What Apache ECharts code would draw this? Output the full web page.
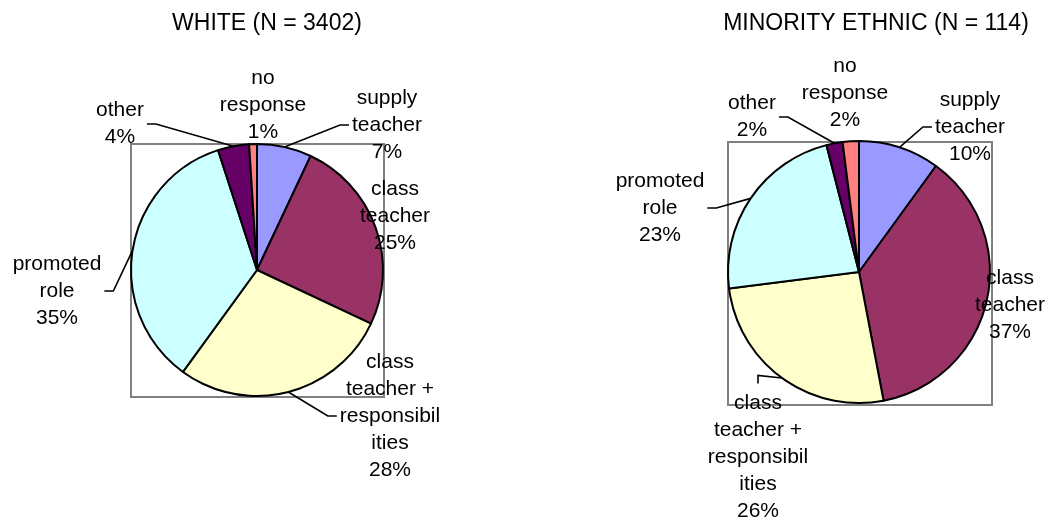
<!DOCTYPE html>
<html>
<head>
<meta charset="utf-8">
<script src="https://cdn.jsdelivr.net/npm/echarts@6/dist/echarts.min.js"></script>
<style>
  html, body { margin: 0; background: #fff; }
  #chart { width: 1048px; height: 521px; }
</style>
</head>
<body>
<div id="chart"></div>
<script>
// slice names, clockwise from 12 o'clock (line breaks as in the original labels)
const categories = ['supply\nteacher', 'class\nteacher', 'class\nteacher +\nresponsibil\nities', 'promoted\nrole', 'other', 'no\nresponse'];
const whiteValues = [7, 25, 28, 35, 4, 1];
const minorityValues = [10, 37, 26, 23, 2, 2];
const titles = ['WHITE (N = 3402)', 'MINORITY ETHNIC (N = 114)'];
const sliceColors = ['#9999FF', '#993366', '#FFFFCC', '#CCFFFF', '#660066', '#FF8080'];

// where each label sits and which side the leader line comes in from
const whiteLabels = [
  { pos: [387, 125], line: 'left' },
  { pos: [395, 216], line: null },
  { pos: [390, 416], line: 'left' },
  { pos: [57, 291], line: 'right' },
  { pos: [120, 124], line: 'right' },
  { pos: [263, 105], line: null }
];
const minorityLabels = [
  { pos: [970, 127], line: 'left' },
  { pos: [1010, 305], line: null },
  { pos: [758, 457], line: 'top' },
  { pos: [660, 208], line: 'right' },
  { pos: [752, 117], line: 'right' },
  { pos: [845, 93], line: null }
];

const FONT = 'Liberation Sans, Arial, sans-serif';

function buildData(values, labels) {
  return categories.map((name, i) => ({
    name,
    value: values[i],
    itemStyle: { color: sliceColors[i] },
    labelLine: { show: labels[i].line != null }
  }));
}

function makeLayout(labels) {
  return function (params) {
    const item = labels[params.dataIndex];
    const x = item.pos[0];
    const y = item.pos[1];
    const res = { x, y, align: 'center', verticalAlign: 'middle' };
    const pts = params.labelLinePoints;
    if (item.line && pts) {
      const w = params.labelRect.width;
      const h = params.labelRect.height;
      let end, elbow;
      if (item.line === 'left') {
        end = [x - w / 2 - 3, y];
        elbow = [end[0] - 9, y];
      } else if (item.line === 'right') {
        end = [x + w / 2 + 3, y];
        elbow = [end[0] + 9, y];
      } else {
        const top = y - h / 2;
        end = [x, top - 6];
        elbow = [x, top - 14];
      }
      res.labelLinePoints = [pts[0], elbow, end];
    }
    return res;
  };
}

function pieSeries(center, radius, values, labels) {
  return {
    type: 'pie',
    center,
    radius,
    startAngle: 90,
    clockwise: true,
    avoidLabelOverlap: false,
    percentPrecision: 0,
    itemStyle: { borderColor: '#000', borderWidth: 2 },
    label: {
      show: true,
      position: 'outside',
      formatter: '{b}\n{d}%',
      color: '#000',
      fontFamily: FONT,
      fontSize: 21,
      lineHeight: 27,
      align: 'center'
    },
    labelLine: { show: true, length: 10, length2: 10, lineStyle: { color: '#000', width: 1.6 } },
    emphasis: { disabled: true },
    labelLayout: makeLayout(labels),
    data: buildData(values, labels)
  };
}

const chart = echarts.init(document.getElementById('chart'));
chart.setOption({
  animation: false,
  backgroundColor: '#fff',
  title: [
    { text: titles[0], left: 267, top: 12, textAlign: 'center', padding: 0,
      textStyle: { fontFamily: FONT, fontSize: 23, fontWeight: 'normal', color: '#000' } },
    { text: titles[1], left: 876, top: 12, textAlign: 'center', padding: 0,
      textStyle: { fontFamily: FONT, fontSize: 23, fontWeight: 'normal', color: '#000' } }
  ],
  graphic: [
    { type: 'rect', z: -10, shape: { x: 131, y: 144, width: 253, height: 253 },
      style: { fill: 'none', stroke: '#808080', lineWidth: 2 } },
    { type: 'rect', z: -10, shape: { x: 728, y: 142, width: 264, height: 263 },
      style: { fill: 'none', stroke: '#808080', lineWidth: 2 } }
  ],
  series: [
    pieSeries([257, 270], 126, whiteValues, whiteLabels),
    pieSeries([859, 272], 131, minorityValues, minorityLabels)
  ]
});
</script>
</body>
</html>
